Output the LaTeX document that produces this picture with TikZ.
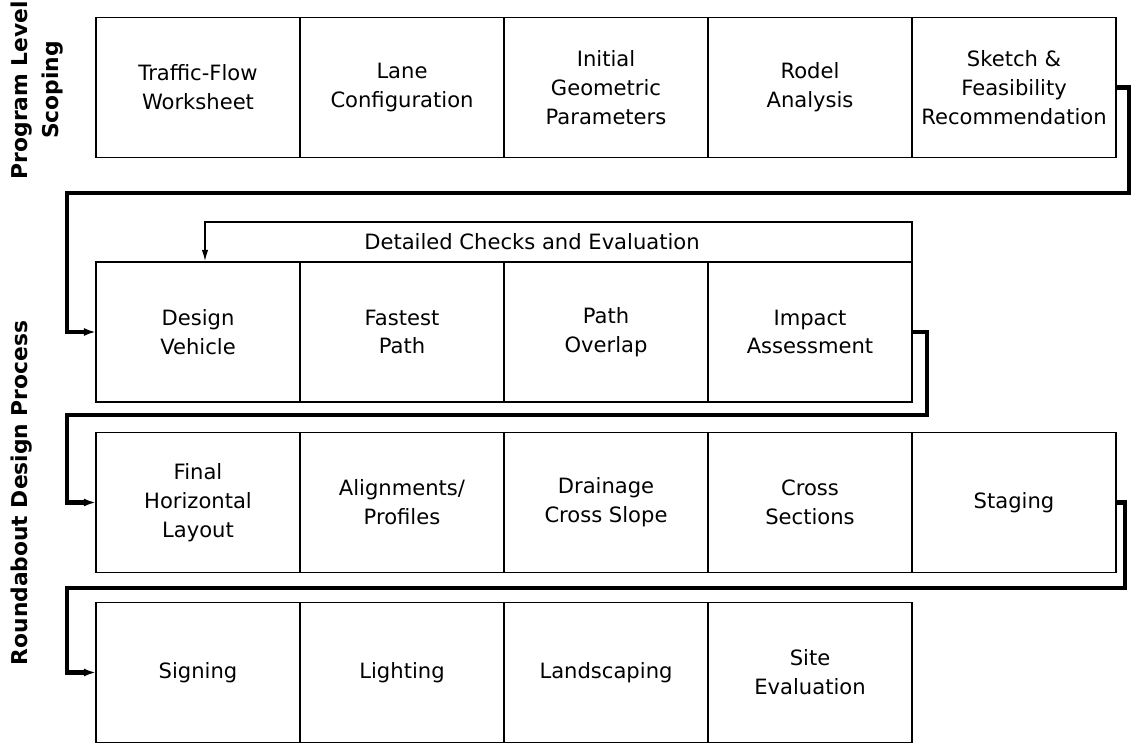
\documentclass[tikz,border=0pt]{standalone}
\usepackage{fontspec}
\setmainfont{DejaVu Sans}
\usetikzlibrary{arrows.meta,positioning}

\begin{document}
\begin{tikzpicture}[x=0.25mm,y=-0.25mm]
\tikzstyle{every node}+=[inner sep=0pt]
\tikzstyle{cell}=[draw,line width=1.4pt,outer sep=0pt,minimum width=51mm,minimum height=35mm,align=center,font=\fontsize{15}{20.5}\selectfont]
\tikzstyle{flow}=[line width=3.2pt,-{Latex[length=3mm,width=2mm]}]
\tikzstyle{recheck}=[line width=1.4pt,-{Latex[length=3mm,width=1.6mm]}]
\tikzstyle{side}=[rotate=90,align=center,font=\bfseries\fontsize{15.5}{22}\selectfont]
\useasboundingbox (0,0) rectangle (1131,743);
% side labels
\node[side] (scoping) at (37,90) {Program Level\\Scoping};
\node[side] (process) at (22,493) {Roundabout Design Process};
% row 1
\node[cell] (tfw) at (198,87.5) {Traffic-Flow\\Worksheet};
\node[cell,right=0pt of tfw] (lane) {Lane\\Configuration};
\node[cell,right=0pt of lane] (geom) {Initial\\Geometric\\Parameters};
\node[cell,right=0pt of geom] (rodel) {Rodel\\Analysis};
\node[cell,right=0pt of rodel] (sketch) {Sketch \&\\Feasibility\\Recommendation};
% row 2
\node[cell] (dveh) at (198,332) {Design\\Vehicle};
\node[cell,right=0pt of dveh] (fpath) {Fastest\\Path};
\node[cell,right=0pt of fpath] (povl) {Path\\Overlap};
\node[cell,right=0pt of povl] (impact) {Impact\\Assessment};
% row 3
\node[cell] (fhl) at (198,502.5) {Final\\Horizontal\\Layout};
\node[cell,right=0pt of fhl] (align) {Alignments/\\Profiles};
\node[cell,right=0pt of align] (drain) {Drainage\\Cross Slope};
\node[cell,right=0pt of drain] (xsec) {Cross\\Sections};
\node[cell,right=0pt of xsec] (staging) {Staging};
% row 4
\node[cell] (sign) at (198,672.5) {Signing};
\node[cell,right=0pt of sign] (light) {Lighting};
\node[cell,right=0pt of light] (land) {Landscaping};
\node[cell,right=0pt of land] (site) {Site\\Evaluation};
% detailed checks loop
\coordinate (c1) at (205,222);
\node[font=\fontsize{15}{17}\selectfont] (checks) at (532,242) {Detailed Checks and Evaluation};
\draw[recheck] (impact.north east) |- (c1) -- (c1 |- dveh.north);
% links between rows
\coordinate (r1) at (1129,193);
\coordinate (l1) at (67,193);
\draw[flow] (sketch.east) -| (r1) -- (l1) |- (dveh.west);
\coordinate (r2) at (927,415);
\coordinate (l2) at (67,415);
\draw[flow] (impact.east) -| (r2) -- (l2) |- (fhl.west);
\coordinate (r3) at (1125,588);
\coordinate (l3) at (67,588);
\draw[flow] (staging.east) -| (r3) -- (l3) |- (sign.west);
\end{tikzpicture}
\end{document}
